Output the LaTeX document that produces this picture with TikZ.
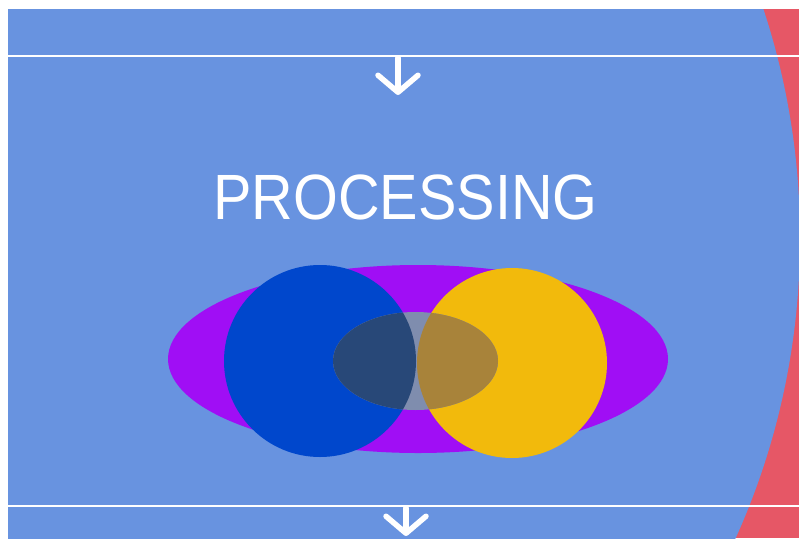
\documentclass[tikz,border=0pt]{standalone}
\usepackage{fontspec}
\setmainfont{Liberation Sans}
\usetikzlibrary{arrows.meta}
\definecolor{bgblue}{HTML}{6893E0}
\definecolor{bgred}{HTML}{E65766}
\definecolor{ringpurple}{HTML}{A00EF5}
\definecolor{leftblue}{HTML}{0047CC}
\definecolor{rightgold}{HTML}{F2BA0C}
\definecolor{coregray}{HTML}{7F8DAE}
\definecolor{coreblue}{HTML}{284878}
\definecolor{coregold}{HTML}{A8833A}
\tikzset{
  rule/.style={white,line width=2.5pt},
  flow/.style={white,line width=5.5pt,line cap=round,-{Straight Barb[round,length=17pt,width=40pt]}}
}

\begin{document}
\begin{tikzpicture}[line cap=round,line join=round,x=1pt,y=-1pt]
\useasboundingbox (0,0) rectangle (799,538);
\fill[white] (0,0) rectangle (799,538);
\begin{scope}
\clip (8,9) rectangle (799,538);
\fill[bgred] (8,9) rectangle (799,538);
\fill[bgblue] (70,238) circle (730pt);
\end{scope}
% separators
\coordinate (topL) at (8,56);
\coordinate (topR) at (799,56);
\coordinate (botL) at (8,506);
\coordinate (botR) at (799,506);
\draw[rule] (topL) -- (topR);
\draw[rule] (botL) -- (botR);
\coordinate (inA) at (398,58);
\coordinate (inB) at (398,95);
\coordinate (outA) at (406,508);
\coordinate (outB) at (406,536);
\draw[flow] (inA) -- (inB);
\draw[flow] (outA) -- (outB);
\node[white,anchor=base,xscale=.9,inner sep=0pt] (title) at (405.5,219) {\fontsize{64}{64}\selectfont PROCESSING};
% venn
\fill[ringpurple] (418,359) ellipse [x radius=250pt,y radius=94pt];
\fill[leftblue] (320,361) circle (96pt);
\fill[rightgold] (512,363) circle (95pt);
\fill[coregray] (415.5,361) ellipse [x radius=82.5pt,y radius=49pt];
\begin{scope}
\clip (320,361) circle (96pt);
\fill[coreblue] (415.5,361) ellipse [x radius=82.5pt,y radius=49pt];
\end{scope}
\begin{scope}
\clip (512,363) circle (95pt);
\fill[coregold] (415.5,361) ellipse [x radius=82.5pt,y radius=49pt];
\end{scope}
\end{tikzpicture}
\end{document}
